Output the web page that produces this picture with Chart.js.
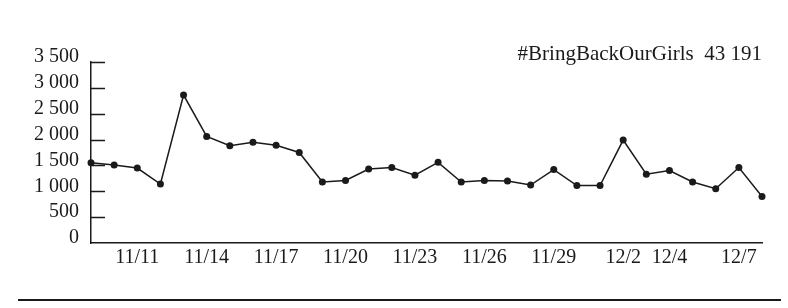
<!DOCTYPE html>
<html>
<head>
<meta charset="utf-8">
<script src="https://cdn.jsdelivr.net/npm/chart.js@4/dist/chart.umd.min.js"></script>
<style>
  html, body { margin: 0; padding: 0; background: #fff; }
  #chart { display: block; }
</style>
</head>
<body>
<canvas id="chart" width="788" height="308"></canvas>
<script>
// daily counts, 11/9 .. 12/8
var dates = ['11/9','11/10','11/11','11/12','11/13','11/14','11/15','11/16','11/17','11/18',
             '11/19','11/20','11/21','11/22','11/23','11/24','11/25','11/26','11/27','11/28',
             '11/29','11/30','12/1','12/2','12/3','12/4','12/5','12/6','12/7','12/8'];
var counts = [1550, 1510, 1450, 1140, 2860, 2060, 1880, 1950, 1890, 1750,
              1180, 1210, 1430, 1460, 1310, 1560, 1180, 1210, 1200, 1120,
              1420, 1110, 1110, 1990, 1330, 1400, 1180, 1050, 1460, 900];
var shownTicks = ['11/11','11/14','11/17','11/20','11/23','11/26','11/29','12/2','12/4','12/7'];
var yTicks = [0, 500, 1000, 1500, 2000, 2500, 3000, 3500];
var titleText = '#BringBackOurGirls  43 191';

var ink = '#1a1a1a';
var serif = "'Liberation Serif', 'DejaVu Serif', serif";

function spaced(v) {
    return String(v).replace(/\B(?=(\d{3})+(?!\d))/g, ' ');
}

// tick marks pointing into the plot + the rule under the chart
var extras = {
    id: 'extras',
    afterDraw: function(chart) {
        var ctx = chart.ctx;
        var area = chart.chartArea;
        var y = chart.scales.y;
        ctx.save();
        ctx.strokeStyle = ink;
        ctx.lineWidth = 1.5;
        ctx.beginPath();
        y.ticks.forEach(function(t) {
            if (t.value === 0) return;
            var py = Math.round(y.getPixelForValue(t.value)) + 0.5;
            ctx.moveTo(area.left, py);
            ctx.lineTo(area.left + 14, py);
        });
        ctx.stroke();
        ctx.fillStyle = ink;
        ctx.fillRect(18, 299, 763, 2);
        ctx.restore();
    }
};

var ctx = document.getElementById('chart').getContext('2d');
var chart = new Chart(ctx, {
    type: 'line',
    data: {
        labels: dates,
        datasets: [{
            data: counts,
            borderColor: ink,
            backgroundColor: ink,
            borderWidth: 1.5,
            pointRadius: 3.5,
            pointBorderWidth: 0,
            tension: 0
        }]
    },
    options: {
        responsive: false,
        animation: false,
        layout: {
            padding: { top: 0, right: 26, bottom: 35, left: 0 }
        },
        plugins: {
            legend: { display: false },
            tooltip: { enabled: false },
            title: {
                display: true,
                text: titleText,
                align: 'end',
                color: ink,
                font: { family: serif, size: 21, weight: 'normal', lineHeight: 1 },
                padding: { top: 44, bottom: -3 }
            }
        },
        scales: {
            x: {
                offset: false,
                grid: { display: false, drawTicks: false },
                border: { display: true, color: ink, width: 1.5 },
                ticks: {
                    autoSkip: false,
                    maxRotation: 0,
                    padding: 3,
                    color: ink,
                    font: { family: serif, size: 20 },
                    callback: function(value) {
                        var lab = this.getLabelForValue(value);
                        return shownTicks.indexOf(lab) >= 0 ? lab : '';
                    }
                }
            },
            y: {
                min: yTicks[0],
                max: yTicks[yTicks.length - 1],
                afterFit: function(scale) { scale.width = 91; },
                grid: { display: false, drawTicks: false },
                border: { display: true, color: ink, width: 1.5 },
                ticks: {
                    stepSize: 500,
                    autoSkip: false,
                    padding: 12,
                    labelOffset: -5,
                    color: ink,
                    font: { family: serif, size: 20 },
                    callback: function(value) {
                        return yTicks.indexOf(value) >= 0 ? spaced(value) : '';
                    }
                }
            }
        }
    },
    plugins: [extras]
});
</script>
</body>
</html>
